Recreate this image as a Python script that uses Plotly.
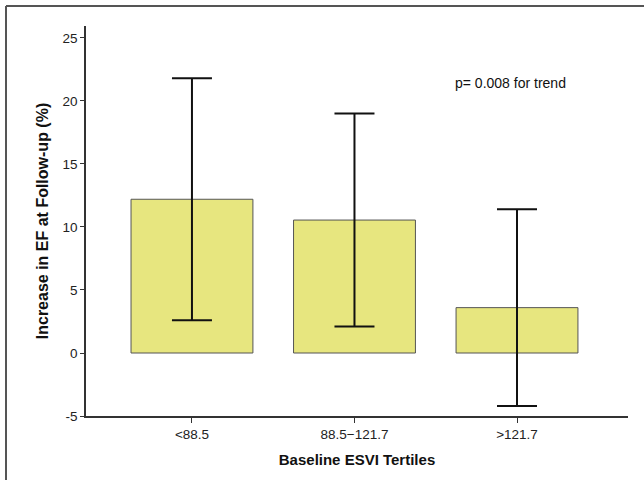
import plotly.graph_objects as go

categories = ["<88.5", "88.5\u2212121.7", ">121.7"]
means = [12.2, 10.55, 3.6]
errors = [9.6, 8.45, 7.8]
y_ticks = [-5, 0, 5, 10, 15, 20, 25]
y_tick_labels = ["-5", "0", "5", "10", "15", "20", "25"]

fig = go.Figure()
fig.add_trace(go.Bar(
    x=[0, 1, 2], y=means, width=0.75,
    marker=dict(color="#E7E67F", line=dict(color="#555555", width=1)),
    error_y=dict(type="data", array=errors, visible=True, color="#111111", thickness=2, width=20),
))

fig.add_annotation(x=1.606, y=21.4, xref="x", yref="y", text="p= 0.008 for trend",
                   showarrow=False, xanchor="left", yanchor="middle",
                   font=dict(family="Liberation Sans, Arial", size=14, color="#111111"))

line = dict(color="#555555", width=2)
fig.add_shape(type="line", xref="paper", yref="paper", x0=-0.1476, x1=1.04, y0=1.0513, y1=1.0513, line=line)
fig.add_shape(type="line", xref="paper", yref="paper", x0=-0.1476, x1=-0.1476, y0=1.0513, y1=-0.2, line=line)

fig.update_layout(
    width=644, height=480,
    margin=dict(l=86, r=16, t=26, b=64),
    paper_bgcolor="white", plot_bgcolor="white",
    showlegend=False,
    font=dict(family="Liberation Sans, Arial", size=13.5, color="#222222"),
    xaxis=dict(range=[-0.652, 2.683], tickvals=[0, 1, 2], ticktext=categories,
               showgrid=False, zeroline=False, showline=True, linecolor="#333333", linewidth=1.5,
               ticks="outside", ticklen=5, tickcolor="#333333",
               title=dict(text="<b>Baseline ESVI Tertiles</b>", font=dict(size=15, color="#111111"), standoff=14)),
    yaxis=dict(range=[-5, 25.95], tickvals=y_ticks, ticktext=y_tick_labels,
               showgrid=False, zeroline=False, showline=True, linecolor="#333333", linewidth=1.5,
               ticks="outside", ticklen=4, tickcolor="#333333",
               title=dict(text="<b>Increase in EF at Follow-up (%)</b>", font=dict(size=16, color="#111111"), standoff=10)),
)

fig.write_html("out.html", config={"displayModeBar": False},
               post_script="document.body.style.margin='0';")
